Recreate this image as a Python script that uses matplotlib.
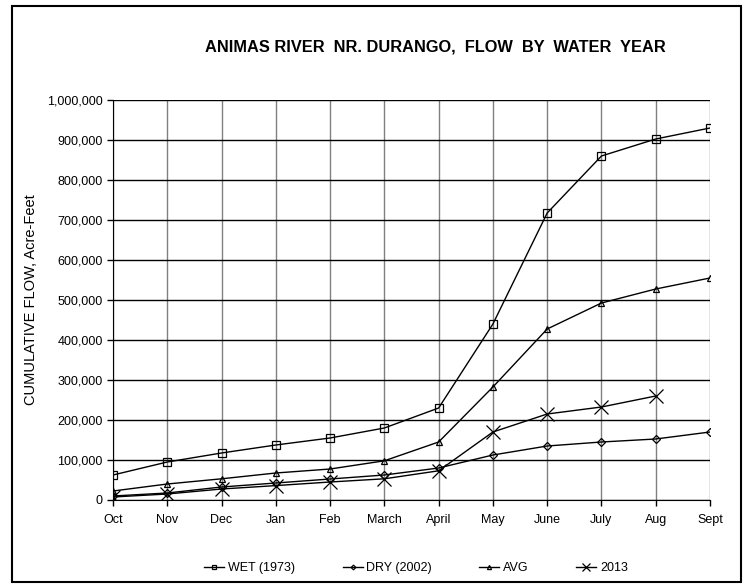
import matplotlib.pyplot as plt
from matplotlib.patches import Rectangle
from matplotlib.ticker import FuncFormatter

months = ['Oct', 'Nov', 'Dec', 'Jan', 'Feb', 'March', 'April', 'May',
          'June', 'July', 'Aug', 'Sept']

wet_1973 = [62500, 95000, 117500, 137500, 155000, 180000, 230000, 440000,
            717500, 860000, 902500, 930000]
dry_2002 = [10000, 17500, 32500, 42500, 52500, 62500, 80000, 112500,
            135000, 145000, 152500, 170000]
avg = [22500, 40000, 53000, 67500, 77500, 98000, 145000, 282500,
       427500, 492500, 527500, 555000]
wy_2013 = [7500, 15000, 27500, 36000, 45000, 53000, 73000, 170000,
           215000, 232500, 260000]

plt.rcParams['font.family'] = ['Liberation Sans', 'DejaVu Sans']

fig = plt.figure(figsize=(7.46, 5.84), dpi=100)
ax = fig.add_axes([113 / 746, 1 - 500 / 584, 597 / 746, 400 / 584])

x = list(range(len(months)))
ax.plot(x, wet_1973, color='black', lw=1, marker='s', ms=5.5, mfc='none',
        mec='black', mew=0.9, label='WET (1973)')
ax.plot(x, dry_2002, color='black', lw=1, marker='D', ms=4, mfc='none',
        mec='black', mew=0.9, label='DRY (2002)')
ax.plot(x, avg, color='black', lw=1, marker='^', ms=5, mfc='none',
        mec='black', mew=0.9, label='AVG')
ax.plot(x[:len(wy_2013)], wy_2013, color='black', lw=1, marker='x', ms=10,
        mew=0.9, label='2013')

ax.set_xlim(0, 11)
ax.set_ylim(0, 1000000)
ax.set_xticks(x)
ax.set_xticklabels(months)
ax.set_yticks(range(0, 1000001, 100000))
ax.yaxis.set_major_formatter(FuncFormatter(lambda v, p: f'{int(v):,}'))
ax.tick_params(axis='both', labelsize=9, length=4, width=1, color='black',
               labelcolor='black')
ax.tick_params(axis='x', pad=6)

ax.grid(axis='y', color='black', lw=1)
ax.grid(axis='x', color='#808080', lw=1)
ax.set_axisbelow(True)
for side in ['top', 'right']:
    ax.spines[side].set_visible(False)
ax.spines['left'].set_color('black')
ax.spines['bottom'].set_color('black')

ax.set_ylabel('CUMULATIVE FLOW, Acre-Feet', fontsize=10.5, labelpad=6)

fig.text(435 / 746, 1 - 47 / 584, 'ANIMAS RIVER  NR. DURANGO,  FLOW  BY  WATER  YEAR',
         ha='center', va='center', fontsize=11.8, fontweight='bold')

fig.legend(loc='center', bbox_to_anchor=(416 / 746, 1 - 568 / 584), ncol=4,
           frameon=False, fontsize=9, handlelength=1.6, columnspacing=3.8,
           handletextpad=0.3, markerscale=0.6)

fig.patches.append(Rectangle((12 / 746, 1 - 582 / 584), 729 / 746, 576 / 584,
                             transform=fig.transFigure, fill=False,
                             edgecolor='black', lw=1.5))

fig.savefig('out.png', dpi=100)
